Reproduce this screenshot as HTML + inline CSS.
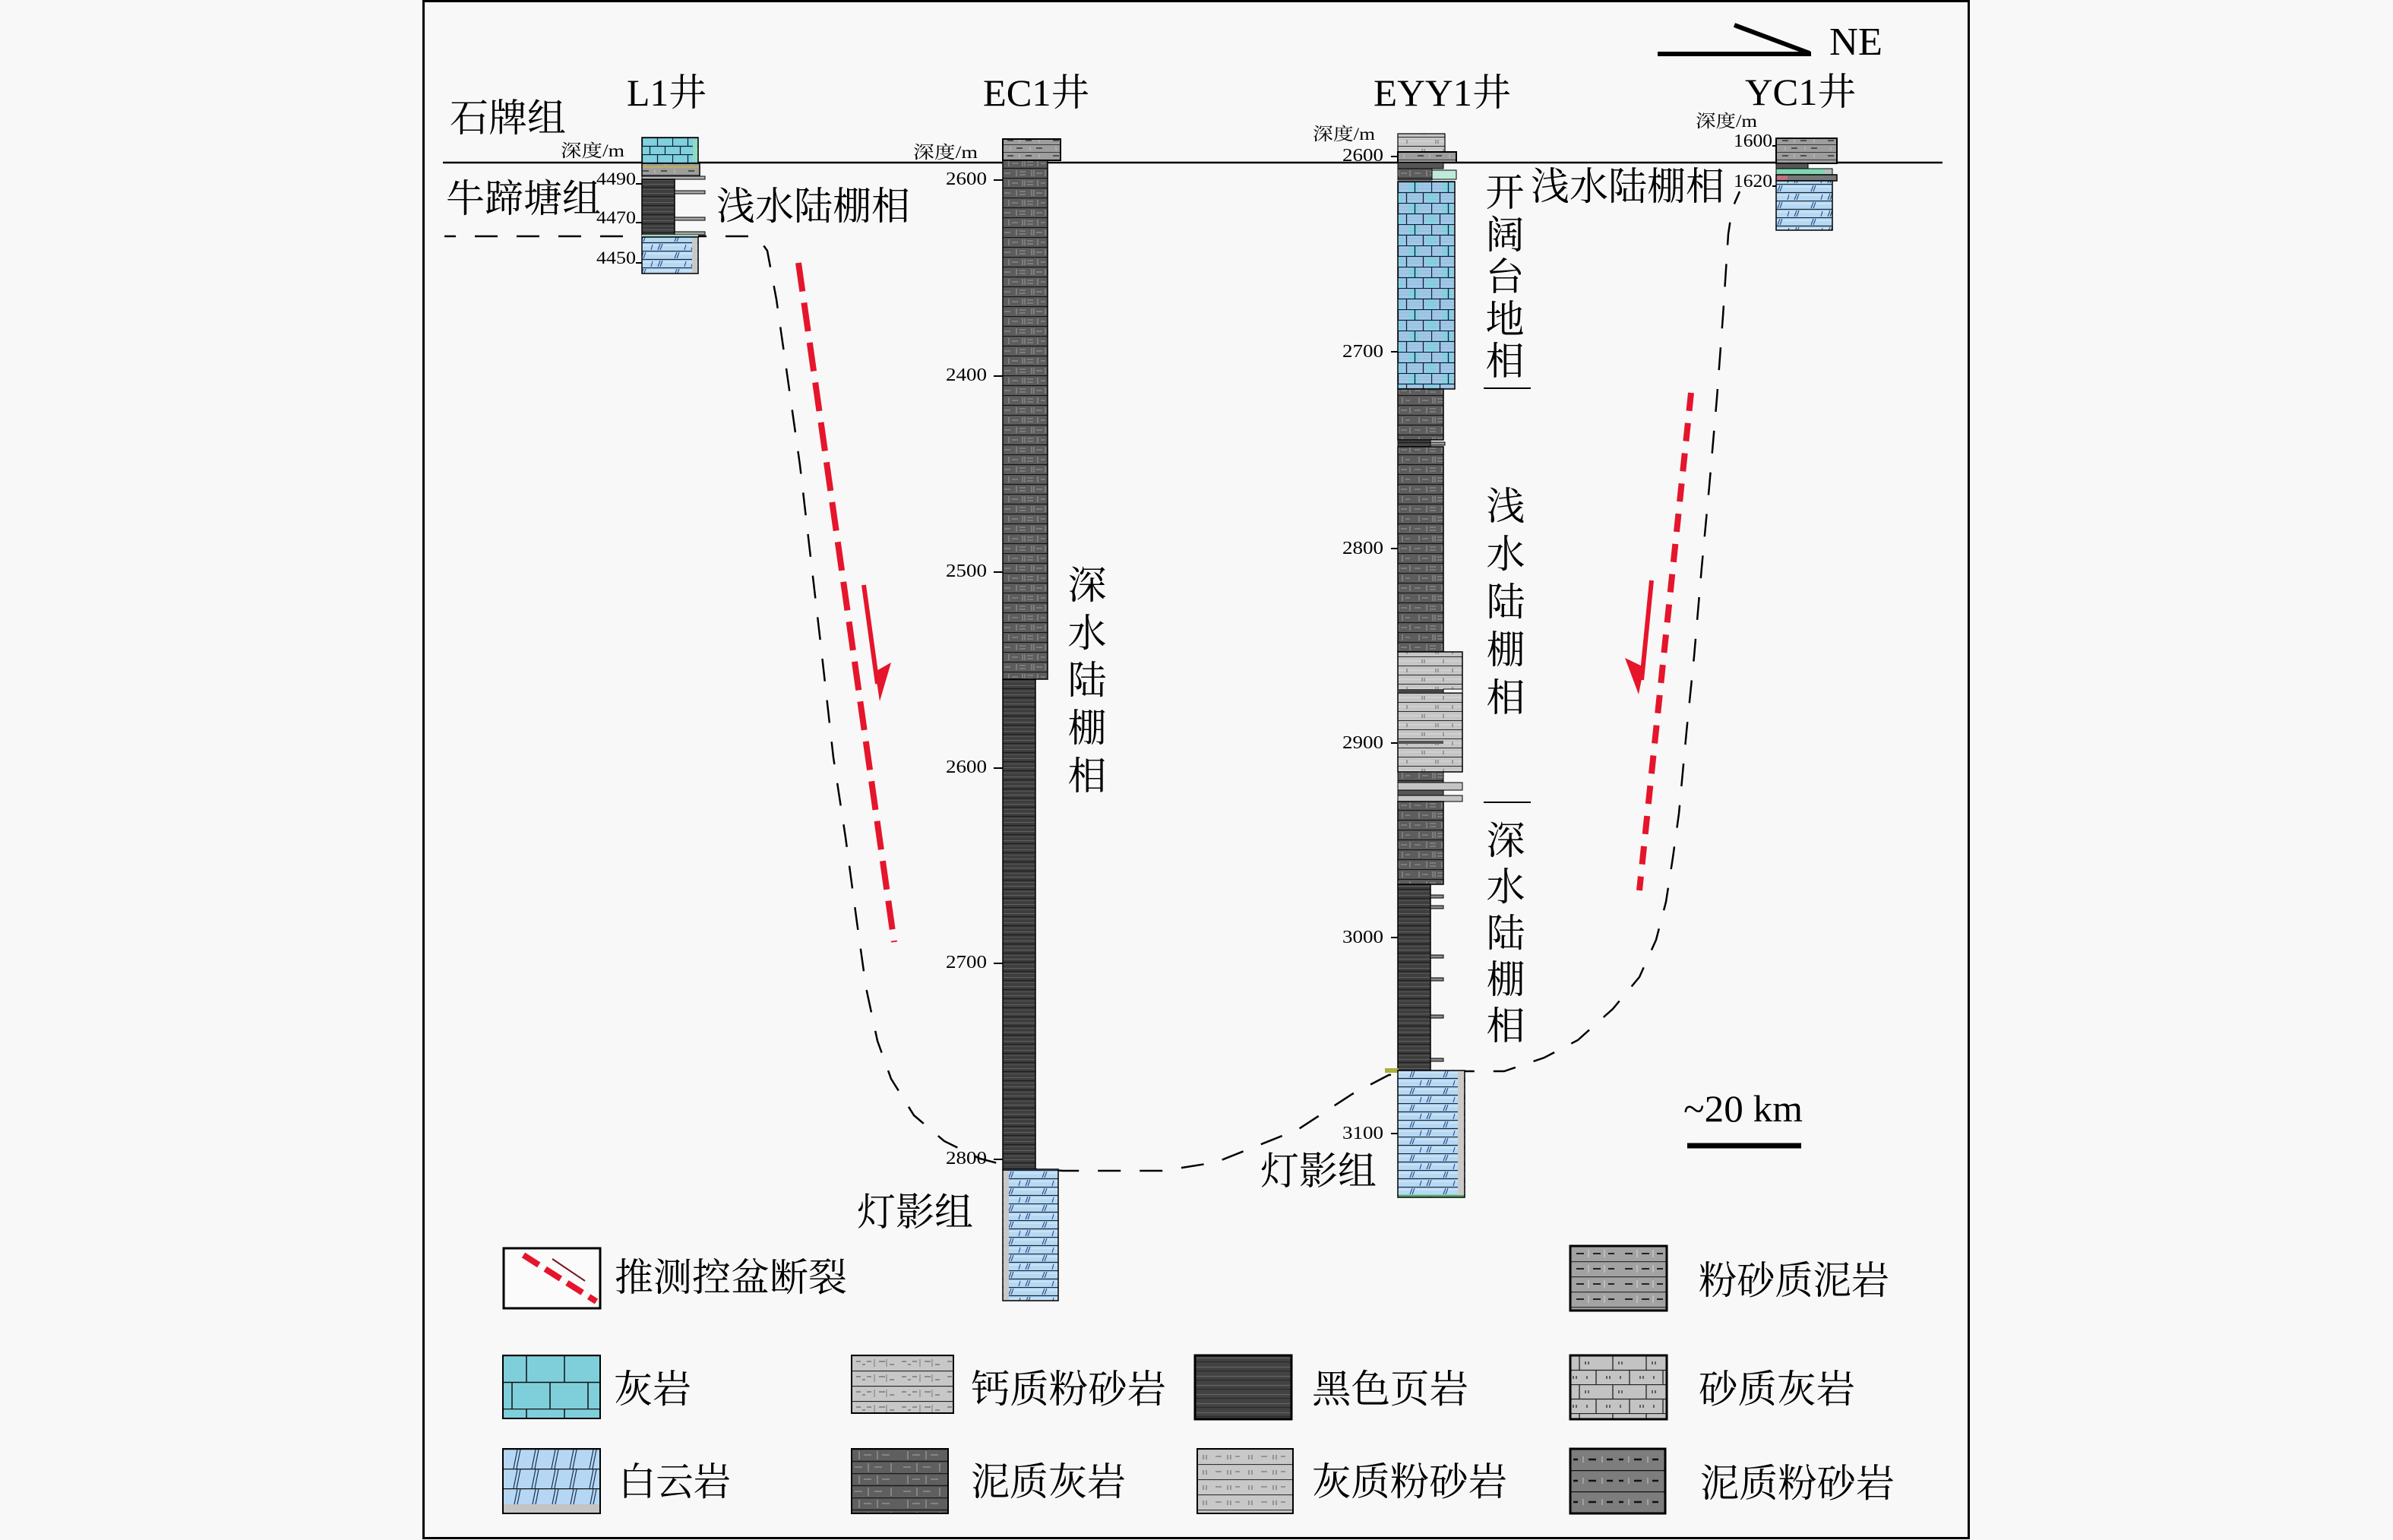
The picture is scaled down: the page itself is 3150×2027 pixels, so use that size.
<!DOCTYPE html>
<html><head><meta charset="utf-8">
<style>
html,body{margin:0;padding:0;background:#f8f8f8;}
svg{display:block;}
text{font-family:"Liberation Serif","Noto Serif CJK SC",serif;fill:#000;}
</style></head><body>
<svg width="3150" height="2027" viewBox="0 0 3150 2027" xmlns="http://www.w3.org/2000/svg">
<defs>
 <pattern id="lsC" width="40" height="22" patternUnits="userSpaceOnUse" x="845" y="181">
  <rect width="40" height="22" fill="#80d0de"/>
  <path d="M0 0.5H40M0 11.5H40M0.5 0V11M20.5 0V11M10.5 11V22M30.5 11V22" stroke="#0a1e30" stroke-width="1.2"/>
 </pattern>
 <pattern id="ls" width="44" height="28" patternUnits="userSpaceOnUse" x="1840" y="239">
  <rect width="44" height="28" fill="#a2c8e9"/>
  <rect x="14" y="1" width="14" height="13" fill="#86d2e2"/>
  <rect x="0" y="15" width="7" height="13" fill="#86d2e2"/>
  <rect x="37" y="15" width="7" height="13" fill="#86d2e2"/>
  <path d="M0 5H44M0 9H44M0 19H44M0 23H44" stroke="#8fb6d8" stroke-width="0.7"/>
  <path d="M0 0.5H44M0 14.5H44M0.5 0V14M22.5 0V14M11.5 14V28M33.5 14V28" stroke="#0d2238" stroke-width="1.3"/>
 </pattern>
 <pattern id="dol" width="44" height="22" patternUnits="userSpaceOnUse">
  <rect width="44" height="22" fill="#b7d8f2"/>
  <path d="M0 4H44M0 15H44" stroke="#dcecfb" stroke-width="1"/>
  <path d="M0 0.5H44M0 11.5H44" stroke="#12243a" stroke-width="1.2"/>
  <path d="M8 10L11 2M11 10L14 2M30 21L33 13M33 21L36 13M21 21L23 14" stroke="#1f4c8c" stroke-width="1.1"/>
 </pattern>
 <pattern id="mls" width="60" height="26" patternUnits="userSpaceOnUse">
  <rect width="60" height="26" fill="#5d5d5d"/>
  <path d="M0 0.5H60M0 13.5H60" stroke="#151515" stroke-width="1.3"/>
  <path d="M8 3V11M26 3V11M29 3V11M46 3V11M18 16V24M38 16V24M41 16V24M56 16V24" stroke="#8e8e8e" stroke-width="1.3"/>
  <path d="M12 7H20M32 5H40M32 9H40M50 7H56M2 20H10M22 18H30M22 22H30M44 20H52" stroke="#8e8e8e" stroke-width="1.3"/>
 </pattern>
 <pattern id="sh" width="20" height="12" patternUnits="userSpaceOnUse">
  <rect width="20" height="12" fill="#3e3e3e"/>
  <path d="M0 2.5H20" stroke="#626262" stroke-width="1"/>
  <path d="M0 6.5H20" stroke="#1c1c1c" stroke-width="1.3"/>
  <path d="M0 9.5H20" stroke="#545454" stroke-width="1"/>
 </pattern>
 <pattern id="lsi" width="60" height="24" patternUnits="userSpaceOnUse">
  <rect width="60" height="24" fill="#c5c5c5"/>
  <path d="M0 6H60M0 18H60" stroke="#dadada" stroke-width="1"/>
  <path d="M0 0.5H60M0 12.5H60" stroke="#2a2a2a" stroke-width="1"/>
  <path d="M12 4V9M15 4V9M40 4V9M30 16V21M33 16V21M52 16V21" stroke="#777" stroke-width="1.2"/>
 </pattern>
 <pattern id="smd" width="60" height="20" patternUnits="userSpaceOnUse">
  <rect width="60" height="20" fill="#9d9d9d"/>
  <path d="M0 0.5H60M0 10.5H60" stroke="#3a3a3a" stroke-width="1"/>
  <path d="M6 5H14M30 5H38M18 15H26M44 15H52" stroke="#333" stroke-width="1.5"/>
  <path d="M22 3V8M48 3V8M10 13V18M36 13V18" stroke="#bbb" stroke-width="1.2"/>
 </pattern>

 <pattern id="gLs" width="100" height="70" patternUnits="userSpaceOnUse" x="662" y="1784">
  <rect width="100" height="70" fill="#7fcfdb"/>
  <path d="M0 0.5H100M0 35.5H100M31 0V35M81 0V35M12 35V70M62 35V70" stroke="#111" stroke-width="1.5"/>
 </pattern>
 <pattern id="gDol" width="50" height="26" patternUnits="userSpaceOnUse" x="662" y="1907">
  <rect width="50" height="26" fill="#b5d7f3"/>
  <path d="M0 0.5H50" stroke="#111" stroke-width="1.5"/>
  <path d="M38 26L43 1M42 26L47 1M14 26L19 1M18 26L23 1" stroke="#1a3050" stroke-width="1.2"/>
 </pattern>
 <pattern id="gCs" width="60" height="20" patternUnits="userSpaceOnUse" x="1121" y="1784">
  <rect width="60" height="20" fill="#c7c7c7"/>
  <path d="M0 0.5H60" stroke="#222" stroke-width="1.3"/>
  <path d="M6 8H12M20 8H26M36 8H44M50 12H56M14 12H18" stroke="#777" stroke-width="1.5"/>
  <path d="M30 5V15M46 5V15" stroke="#888" stroke-width="1.2"/>
 </pattern>
 <pattern id="gSh" width="20" height="12" patternUnits="userSpaceOnUse" x="1573" y="1784">
  <rect width="20" height="12" fill="#424242"/>
  <path d="M0 3.5H20" stroke="#636363" stroke-width="1.2"/>
  <path d="M0 8.5H20" stroke="#2a2a2a" stroke-width="1.2"/>
 </pattern>
 <pattern id="gMls" width="64" height="32" patternUnits="userSpaceOnUse" x="1121" y="1907">
  <rect width="64" height="32" fill="#5f5f5f"/>
  <path d="M0 0.5H64M0 16.5H64" stroke="#1a1a1a" stroke-width="1.4"/>
  <path d="M10 3V14M34 3V14M22 19V30M52 19V30" stroke="#999" stroke-width="1.3"/>
  <path d="M16 8H26M40 8H50M4 24H14M30 24H40" stroke="#999" stroke-width="1.3"/>
 </pattern>
 <pattern id="gLsi" width="60" height="20" patternUnits="userSpaceOnUse" x="1576" y="1907">
  <rect width="60" height="20" fill="#c8c8c8"/>
  <path d="M0 0.5H60" stroke="#333" stroke-width="1.2"/>
  <path d="M8 8V14M12 8V14M24 10H32M40 8V14M44 8V14M50 10H56" stroke="#777" stroke-width="1.3"/>
 </pattern>
 <pattern id="gSmd" width="64" height="20" patternUnits="userSpaceOnUse" x="2067" y="1640">
  <rect width="64" height="20" fill="#a2a2a2"/>
  <path d="M0 0.5H64" stroke="#333" stroke-width="1.4"/>
  <path d="M8 10H18M30 10H40M50 10H58" stroke="#222" stroke-width="2"/>
  <path d="M24 5V15M45 5V15" stroke="#ccc" stroke-width="1.3"/>
 </pattern>
 <pattern id="gSls" width="44" height="38" patternUnits="userSpaceOnUse" x="2067" y="1784">
  <rect width="44" height="38" fill="#c3c3c3"/>
  <path d="M0 0.5H44M0 19.5H44M12 0V19M34 19V38" stroke="#222" stroke-width="1.3"/>
  <path d="M20 8V12M24 8V12M4 27V31M8 27V31M22 27V31" stroke="#555" stroke-width="1.8"/>
 </pattern>
 <pattern id="gMsi" width="60" height="28" patternUnits="userSpaceOnUse" x="2067" y="1907">
  <rect width="60" height="28" fill="#7d7d7d"/>
  <path d="M0 0.5H60" stroke="#111" stroke-width="1.5"/>
  <path d="M4 14H10M24 14H34M48 14H56" stroke="#111" stroke-width="2.5"/>
  <path d="M17 10V18M42 10V18" stroke="#bbb" stroke-width="1.2"/>
 </pattern>
</defs>

<rect width="3150" height="2027" fill="#f8f8f8"/>
<rect x="557.5" y="1.5" width="2034" height="2023" fill="none" stroke="#000" stroke-width="3"/>

<line x1="2182" y1="71" x2="2384" y2="71" stroke="#000" stroke-width="6"/>
<line x1="2283" y1="33" x2="2382" y2="70" stroke="#000" stroke-width="6"/>
<text x="2408" y="72" font-size="52" textLength="70" lengthAdjust="spacingAndGlyphs">NE</text>

<text x="825" y="139" font-size="50" textLength="105" lengthAdjust="spacingAndGlyphs">L1井</text>
<text x="1294" y="139" font-size="50" textLength="140" lengthAdjust="spacingAndGlyphs">EC1井</text>
<text x="1808" y="139" font-size="50" textLength="181" lengthAdjust="spacingAndGlyphs">EYY1井</text>
<text x="2297" y="138" font-size="50" textLength="146" lengthAdjust="spacingAndGlyphs">YC1井</text>

<line x1="583" y1="214" x2="2557" y2="214" stroke="#000" stroke-width="2.5"/>

<polyline fill="none" stroke="#000" stroke-width="2.5" stroke-dasharray="30 25" stroke-dashoffset="15"
 points="585,311 985,311 1000,316 1010,330 1022,394 1037,499 1053,612 1065,716 1080,845 1097,997 1113,1102 1128,1214 1140,1300 1155,1370 1173,1420 1203,1468 1243,1502 1290,1525 1340,1538 1400,1541 1530,1541 1600,1530 1708,1487 1780,1440 1828,1415 1880,1410 1980,1410 2033,1392 2077,1369 2123,1328 2158,1286 2180,1237 2193,1187 2202,1129 2210,1071 2220,963 2230,864 2240,747 2250,640 2260,524 2268,416 2275,308 2280,275 2290,252"/>

<text x="592" y="173" font-size="51">石牌组</text>
<text x="587" y="279" font-size="51">牛蹄塘组</text>
<text x="943" y="289" font-size="51">浅水陆棚相</text>
<text x="2015" y="263" font-size="51">浅水陆棚相</text>
<text x="1128" y="1613" font-size="51">灯影组</text>
<text x="1659" y="1559" font-size="51">灯影组</text>

<g font-size="51" text-anchor="middle">
 <text x="1431" y="788">深</text><text x="1431" y="851">水</text><text x="1431" y="913">陆</text><text x="1431" y="976">棚</text><text x="1431" y="1039">相</text>
 <text x="1981" y="271">开</text><text x="1981" y="327">阔</text><text x="1981" y="382">台</text><text x="1981" y="438">地</text><text x="1981" y="493">相</text>
 <text x="1982" y="684">浅</text><text x="1982" y="747">水</text><text x="1982" y="810">陆</text><text x="1982" y="873">棚</text><text x="1982" y="936">相</text>
 <text x="1982" y="1124">深</text><text x="1982" y="1185">水</text><text x="1982" y="1246">陆</text><text x="1982" y="1307">棚</text><text x="1982" y="1368">相</text>
</g>
<line x1="1953" y1="511" x2="2015" y2="511" stroke="#000" stroke-width="2"/>
<line x1="1953" y1="1056" x2="2015" y2="1056" stroke="#000" stroke-width="2"/>

<!-- L1 -->
<rect x="845" y="181" width="74" height="34" fill="url(#lsC)" stroke="#000" stroke-width="1.5"/>
<rect x="912" y="184" width="6" height="28" fill="#8fdcc0"/>
<rect x="845" y="215" width="76" height="17" fill="url(#smd)" stroke="#000" stroke-width="1.5"/>
<line x1="846" y1="220" x2="920" y2="220" stroke="#b9b060" stroke-width="2.5"/>
<rect x="845" y="232" width="83" height="4" fill="#b5b5b5" stroke="#000" stroke-width="1"/>
<rect x="845" y="236" width="43" height="74" fill="url(#sh)" stroke="#000" stroke-width="1.5"/>
<rect x="888" y="251" width="40" height="4" fill="#a8a8a8" stroke="#000" stroke-width="1"/>
<rect x="888" y="286" width="40" height="4" fill="#a8a8a8" stroke="#000" stroke-width="1"/>
<rect x="888" y="305" width="40" height="4" fill="#a8a8a8" stroke="#000" stroke-width="1"/>
<rect x="845" y="309" width="74" height="4" fill="#9fd8c0"/>
<rect x="845" y="312" width="74" height="48" fill="url(#dol)" stroke="#000" stroke-width="1.5"/>
<rect x="911" y="313" width="7" height="46" fill="#c9c9c9"/>
<g font-size="23">
 <text x="738" y="206" textLength="84" lengthAdjust="spacingAndGlyphs">深度/m</text>
 <text x="785" y="243" textLength="52" lengthAdjust="spacingAndGlyphs">4490</text>
 <text x="785" y="294" textLength="52" lengthAdjust="spacingAndGlyphs">4470</text>
 <text x="785" y="347" textLength="52" lengthAdjust="spacingAndGlyphs">4450</text>
</g>
<path d="M837 242H845M837 293H845M837 346H845" stroke="#000" stroke-width="2"/>

<!-- EC1 -->
<rect x="1320" y="183" width="76" height="28" fill="url(#smd)" stroke="#000" stroke-width="2"/>
<rect x="1320" y="211" width="59" height="683" fill="url(#mls)" stroke="#000" stroke-width="1.5"/>
<rect x="1320" y="894" width="43" height="645" fill="url(#sh)" stroke="#000" stroke-width="1.5"/>
<rect x="1320" y="1539" width="73" height="173" fill="url(#dol)" stroke="#000" stroke-width="1.5"/>
<rect x="1321" y="1541" width="7" height="170" fill="#c8c8c8"/>
<g font-size="24">
 <text x="1202" y="208" font-size="23" textLength="85" lengthAdjust="spacingAndGlyphs">深度/m</text>
 <text x="1245" y="243" textLength="54" lengthAdjust="spacingAndGlyphs">2600</text>
 <text x="1245" y="501" textLength="54" lengthAdjust="spacingAndGlyphs">2400</text>
 <text x="1245" y="759" textLength="54" lengthAdjust="spacingAndGlyphs">2500</text>
 <text x="1245" y="1017" textLength="54" lengthAdjust="spacingAndGlyphs">2600</text>
 <text x="1245" y="1274" textLength="54" lengthAdjust="spacingAndGlyphs">2700</text>
 <text x="1245" y="1532" textLength="54" lengthAdjust="spacingAndGlyphs">2800</text>
</g>
<path d="M1308 237H1320M1308 495H1320M1308 753H1320M1308 1011H1320M1308 1268H1320M1308 1526H1320" stroke="#000" stroke-width="2"/>

<!-- EYY1 -->
<rect x="1840" y="176" width="62" height="24" fill="url(#lsi)" stroke="#000" stroke-width="1.2"/>
<rect x="1840" y="200" width="77" height="14" fill="url(#smd)" stroke="#000" stroke-width="2"/>
<rect x="1840" y="214" width="60" height="8" fill="#555" stroke="#000" stroke-width="1"/>
<rect x="1840" y="222" width="45" height="15" fill="url(#mls)" stroke="#000" stroke-width="1"/>
<rect x="1885" y="224" width="32" height="12" fill="#bfeadb" stroke="#000" stroke-width="1"/>
<rect x="1840" y="239" width="75" height="273" fill="url(#ls)" stroke="#000" stroke-width="1.5"/>
<rect x="1840" y="512" width="60" height="67" fill="url(#mls)" stroke="#000" stroke-width="1.5"/>
<rect x="1840" y="579" width="43" height="9" fill="url(#sh)" stroke="#000" stroke-width="1"/>
<rect x="1883" y="582" width="19" height="4" fill="#999" stroke="#000" stroke-width="1"/>
<rect x="1840" y="588" width="60" height="270" fill="url(#mls)" stroke="#000" stroke-width="1.5"/>
<rect x="1840" y="858" width="85" height="158" fill="url(#lsi)" stroke="#000" stroke-width="1.5"/>
<rect x="1840" y="907" width="60" height="5" fill="#444"/>
<rect x="1900" y="907" width="25" height="5" fill="#f8f8f8" stroke="#000" stroke-width="1"/>
<rect x="1840" y="975" width="60" height="4" fill="#555"/>
<rect x="1840" y="1016" width="60" height="14" fill="url(#mls)" stroke="#000" stroke-width="1"/>
<rect x="1840" y="1030" width="85" height="10" fill="#c4c4c4" stroke="#000" stroke-width="1"/>
<rect x="1840" y="1040" width="60" height="7" fill="#555" stroke="#000" stroke-width="1"/>
<rect x="1840" y="1047" width="85" height="8" fill="#c4c4c4" stroke="#000" stroke-width="1"/>
<rect x="1840" y="1055" width="60" height="109" fill="url(#mls)" stroke="#000" stroke-width="1.5"/>
<rect x="1840" y="1164" width="43" height="245" fill="url(#sh)" stroke="#000" stroke-width="1.5"/>
<g fill="#8a8a8a" stroke="#000" stroke-width="1">
 <rect x="1883" y="1178" width="17" height="4"/>
 <rect x="1883" y="1192" width="17" height="4"/>
 <rect x="1883" y="1257" width="17" height="4"/>
 <rect x="1883" y="1287" width="17" height="4"/>
 <rect x="1883" y="1336" width="17" height="4"/>
 <rect x="1883" y="1393" width="17" height="4"/>
</g>
<rect x="1823" y="1406" width="18" height="6" fill="#a8b040"/>
<rect x="1840" y="1409" width="88" height="167" fill="url(#dol)" stroke="#000" stroke-width="1.5"/>
<rect x="1919" y="1410" width="8" height="165" fill="#cacaca"/>
<line x1="1841" y1="1574" x2="1927" y2="1574" stroke="#4caf50" stroke-width="2"/>
<g font-size="24">
 <text x="1728" y="184" font-size="23" textLength="82" lengthAdjust="spacingAndGlyphs">深度/m</text>
 <text x="1767" y="212" textLength="54" lengthAdjust="spacingAndGlyphs">2600</text>
 <text x="1767" y="470" textLength="54" lengthAdjust="spacingAndGlyphs">2700</text>
 <text x="1767" y="729" textLength="54" lengthAdjust="spacingAndGlyphs">2800</text>
 <text x="1767" y="985" textLength="54" lengthAdjust="spacingAndGlyphs">2900</text>
 <text x="1767" y="1241" textLength="54" lengthAdjust="spacingAndGlyphs">3000</text>
 <text x="1767" y="1499" textLength="54" lengthAdjust="spacingAndGlyphs">3100</text>
</g>
<path d="M1831 206H1840M1831 463H1840M1831 722H1840M1831 978H1840M1831 1234H1840M1831 1492H1840" stroke="#000" stroke-width="2"/>

<!-- YC1 -->
<rect x="2338" y="182" width="80" height="33" fill="url(#smd)" stroke="#000" stroke-width="2"/>
<rect x="2338" y="215" width="42" height="7" fill="#555" stroke="#000" stroke-width="1"/>
<rect x="2338" y="222" width="74" height="8" fill="#7fd6b0" stroke="#000" stroke-width="1"/>
<rect x="2402" y="223" width="9" height="6" fill="#bbb"/>
<rect x="2338" y="230" width="80" height="8" fill="#777" stroke="#000" stroke-width="1.5"/>
<rect x="2339" y="231" width="14" height="6" fill="#c07080"/>
<rect x="2338" y="238" width="74" height="65" fill="url(#dol)" stroke="#000" stroke-width="1.5"/>
<g font-size="23">
 <text x="2232" y="167" textLength="81" lengthAdjust="spacingAndGlyphs">深度/m</text>
 <text x="2282" y="193" font-size="24" textLength="51" lengthAdjust="spacingAndGlyphs">1600</text>
 <text x="2282" y="246" font-size="24" textLength="51" lengthAdjust="spacingAndGlyphs">1620</text>
</g>
<path d="M2333 192H2338M2333 245H2338" stroke="#000" stroke-width="2"/>

<!-- faults -->
<line x1="1051" y1="346" x2="1177" y2="1240" stroke="#e5152b" stroke-width="8" stroke-dasharray="38 15"/>
<line x1="1137" y1="770" x2="1155" y2="900" stroke="#e5152b" stroke-width="6"/>
<polygon points="1158,923 1152,884 1173,872" fill="#e5152b"/>
<line x1="2226" y1="517" x2="2158" y2="1172" stroke="#e5152b" stroke-width="8" stroke-dasharray="24 16"/>
<line x1="2174" y1="764" x2="2161" y2="895" stroke="#e5152b" stroke-width="6"/>
<polygon points="2157,914 2139,866 2164,878" fill="#e5152b"/>

<text x="2216" y="1476" font-size="50" textLength="157" lengthAdjust="spacingAndGlyphs">~20 km</text>
<line x1="2221" y1="1508" x2="2371" y2="1508" stroke="#000" stroke-width="7"/>

<!-- legend -->
<rect x="663" y="1643" width="127" height="79" fill="#fbfbfb" stroke="#000" stroke-width="3"/>
<line x1="689" y1="1652" x2="785" y2="1713" stroke="#e5152b" stroke-width="8" stroke-dasharray="24 10"/>
<line x1="727" y1="1657" x2="770" y2="1686" stroke="#7a1020" stroke-width="2"/>
<text x="809" y="1699" font-size="51" textLength="306" lengthAdjust="spacingAndGlyphs">推测控盆断裂</text>

<rect x="2067" y="1640" width="127" height="85" fill="url(#gSmd)" stroke="#000" stroke-width="3"/>
<text x="2236" y="1703" font-size="51" textLength="251" lengthAdjust="spacingAndGlyphs">粉砂质泥岩</text>

<rect x="662" y="1784" width="128" height="83" fill="url(#gLs)" stroke="#000" stroke-width="2"/>
<text x="808" y="1846" font-size="51">灰岩</text>
<rect x="1121" y="1784" width="134" height="76" fill="url(#gCs)" stroke="#000" stroke-width="2"/>
<text x="1278" y="1846" font-size="51" textLength="257" lengthAdjust="spacingAndGlyphs">钙质粉砂岩</text>
<rect x="1573" y="1784" width="127" height="84" fill="url(#gSh)" stroke="#000" stroke-width="3"/>
<text x="1727" y="1846" font-size="51" textLength="206" lengthAdjust="spacingAndGlyphs">黑色页岩</text>
<rect x="2067" y="1784" width="127" height="84" fill="url(#gSls)" stroke="#000" stroke-width="3"/>
<text x="2236" y="1846" font-size="51" textLength="206" lengthAdjust="spacingAndGlyphs">砂质灰岩</text>

<rect x="662" y="1907" width="128" height="85" fill="url(#gDol)" stroke="#000" stroke-width="2"/>
<rect x="663" y="1980" width="126" height="11" fill="#c4c4c4"/>
<text x="814" y="1968" font-size="51" textLength="148" lengthAdjust="spacingAndGlyphs">白云岩</text>
<rect x="1121" y="1907" width="127" height="85" fill="url(#gMls)" stroke="#000" stroke-width="2"/>
<text x="1278" y="1968" font-size="51" textLength="204" lengthAdjust="spacingAndGlyphs">泥质灰岩</text>
<rect x="1576" y="1907" width="126" height="85" fill="url(#gLsi)" stroke="#000" stroke-width="2"/>
<text x="1727" y="1968" font-size="51" textLength="257" lengthAdjust="spacingAndGlyphs">灰质粉砂岩</text>
<rect x="2067" y="1907" width="125" height="85" fill="url(#gMsi)" stroke="#000" stroke-width="3"/>
<text x="2238" y="1970" font-size="51" textLength="256" lengthAdjust="spacingAndGlyphs">泥质粉砂岩</text>
</svg>
</body></html>
